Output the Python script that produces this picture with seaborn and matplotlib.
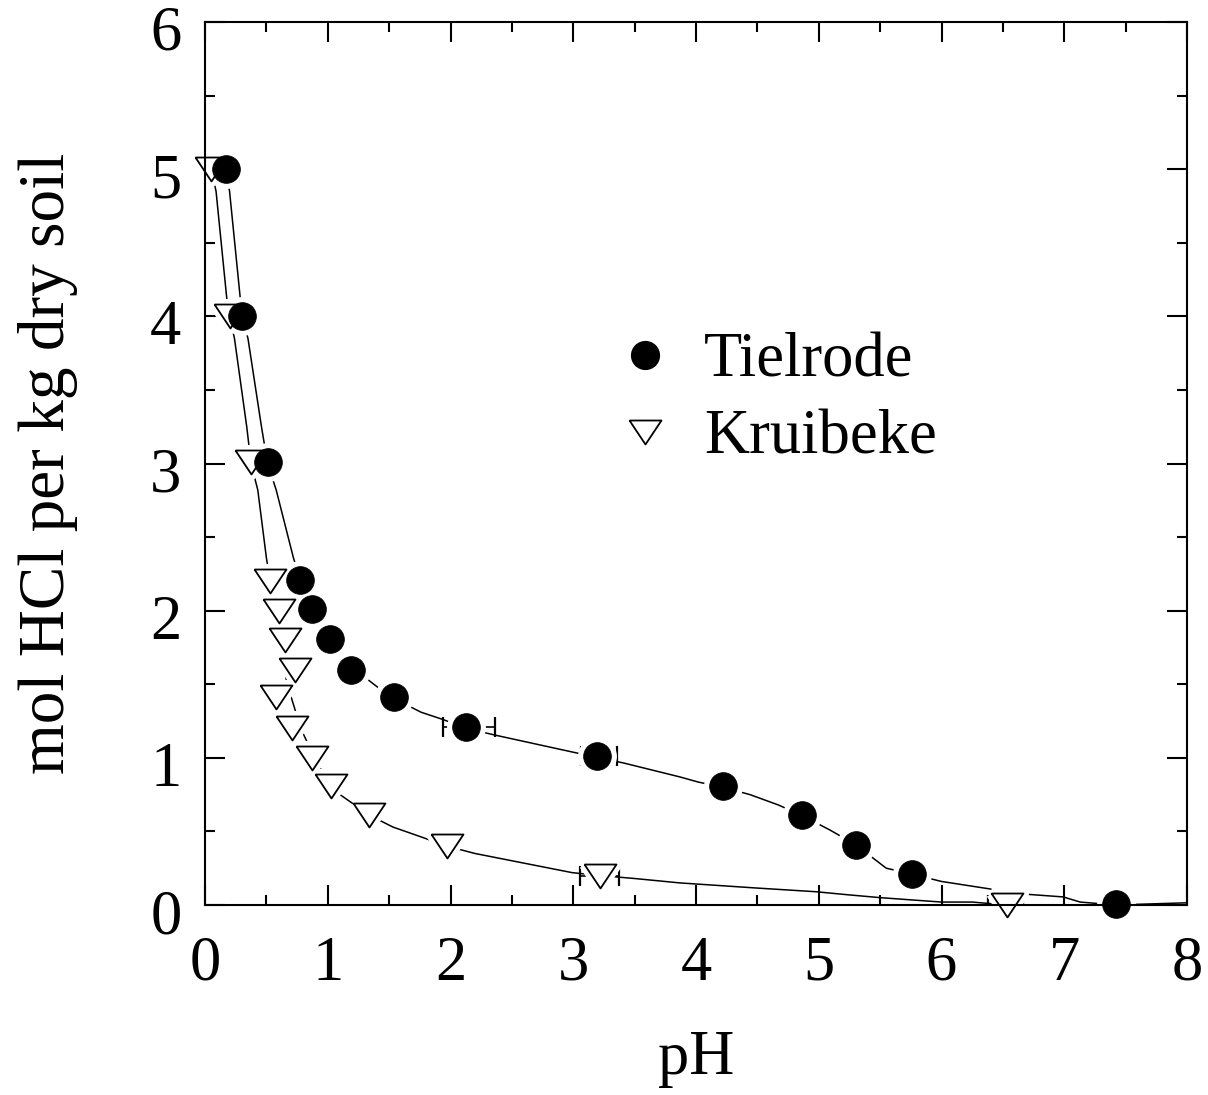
import matplotlib
matplotlib.use("Agg")
import matplotlib.pyplot as plt
import matplotlib.transforms as mtransforms
import seaborn as sns
from matplotlib.lines import Line2D
from matplotlib.ticker import MultipleLocator

# ---------------- data ----------------
tiel_ph = [0.17, 0.30, 0.51, 0.77, 0.87, 1.02, 1.19, 1.54, 2.13, 3.19, 4.22, 4.86, 5.30, 5.76, 7.42]
tiel_hcl = [5.00, 4.00, 3.01, 2.21, 2.01, 1.81, 1.60, 1.41, 1.21, 1.01, 0.81, 0.61, 0.41, 0.21, 0.01]

krui_ph = [0.05, 0.20, 0.375, 0.53, 0.60, 0.65, 0.73, 0.58, 0.71, 0.87, 1.03, 1.34, 1.97, 3.22, 6.53]
krui_hcl = [5.00, 4.00, 3.01, 2.20, 2.00, 1.80, 1.60, 1.41, 1.20, 1.00, 0.81, 0.61, 0.40, 0.20, 0.00]

# horizontal error bars (lower / upper extent in pH)
tiel_err_ph = [2.13, 3.19]
tiel_err_hcl = [1.21, 1.01]
tiel_err_lo = [0.19, 0.13]
tiel_err_hi = [0.23, 0.17]

krui_err_ph = [3.22, 6.53]
krui_err_hcl = [0.20, 0.00]
krui_err_lo = [0.165, 0.15]
krui_err_hi = [0.15, 0.13]

# fitted curves
tiel_fit_ph = [0.17, 0.20, 0.29, 0.30, 0.35, 0.46, 0.51, 0.58, 0.72, 0.80, 0.90, 1.04, 1.22,
               1.50, 1.76, 1.94, 2.13, 2.36, 2.99, 3.41, 3.87, 4.02, 4.22, 4.44, 4.67, 4.86,
               5.09, 5.30, 5.55, 5.76, 6.00, 6.31, 6.66, 6.99, 7.13, 7.42, 8.00]
tiel_fit_hcl = [5.00, 4.85, 4.10, 4.00, 3.85, 3.25, 3.00, 2.82, 2.36, 2.15, 1.95, 1.78, 1.60,
                1.42, 1.31, 1.26, 1.20, 1.155, 1.04, 0.965, 0.87, 0.835, 0.80, 0.75, 0.68, 0.61,
                0.51, 0.41, 0.25, 0.21, 0.16, 0.12, 0.075, 0.055, 0.02, 0.00, 0.015]

krui_fit_ph = [0.05, 0.09, 0.18, 0.20, 0.24, 0.34, 0.375, 0.43, 0.50, 0.55, 0.60, 0.67, 0.78,
               0.92, 1.10, 1.34, 1.53, 1.77, 1.97, 2.20, 2.99, 3.22, 3.50, 3.87, 4.50, 4.98,
               5.23, 5.50, 6.00, 6.25, 6.53, 8.00]
krui_fit_hcl = [5.00, 4.85, 4.10, 4.00, 3.85, 3.25, 3.00, 2.82, 2.36, 2.10, 1.80, 1.50, 1.20,
                0.95, 0.75, 0.61, 0.53, 0.46, 0.40, 0.35, 0.22, 0.20, 0.18, 0.15, 0.115, 0.09,
                0.07, 0.05, 0.02, 0.02, 0.00, 0.00]

series_labels = ["Tielrode", "Kruibeke"]
x_label = "pH"
y_label = "mol HCl per kg dry soil"

# ---------------- style ----------------
sns.set_theme(style="white")
plt.rcParams["font.family"] = ["Liberation Serif", "DejaVu Serif"]
plt.rcParams["text.color"] = "black"
plt.rcParams["axes.labelcolor"] = "black"
plt.rcParams["axes.edgecolor"] = "black"
plt.rcParams["axes.linewidth"] = 1.5

FS = 45
W, H = 1208, 1095
fig = plt.figure(figsize=(W / 100, H / 100), dpi=100)
ax = fig.add_axes([205 / W, 1 - 905 / H, 982 / W, 883 / H])

tri = [(-1, 0.75), (1, 0.75), (0, -0.75), (-1, 0.75)]
CIRC_S = 20 ** 2
TRI_S = 23 ** 2

# fitted curves
sns.lineplot(x=tiel_fit_ph, y=tiel_fit_hcl, sort=False, estimator=None,
             color="black", lw=1.1, ax=ax, zorder=1)
sns.lineplot(x=krui_fit_ph, y=krui_fit_hcl, sort=False, estimator=None,
             color="black", lw=1.1, ax=ax, zorder=1)

# error bars
ax.errorbar(tiel_err_ph, tiel_err_hcl, xerr=[tiel_err_lo, tiel_err_hi], fmt="none",
            ecolor="black", elinewidth=1.2, capsize=7.5, capthick=1.6, zorder=2)
ax.errorbar(krui_err_ph, krui_err_hcl, xerr=[krui_err_lo, krui_err_hi], fmt="none",
            ecolor="black", elinewidth=1.2, capsize=7.5, capthick=1.6, zorder=2)

# white halos around markers
sns.scatterplot(x=krui_ph, y=krui_hcl, marker=tri, s=TRI_S, color="white",
                edgecolor="white", linewidth=8, ax=ax, zorder=3, clip_on=False)
sns.scatterplot(x=tiel_ph, y=tiel_hcl, marker="o", s=CIRC_S, color="white",
                edgecolor="white", linewidth=8, ax=ax, zorder=3, clip_on=False)

# markers
sns.scatterplot(x=krui_ph, y=krui_hcl, marker=tri, s=TRI_S, color="white",
                edgecolor="black", linewidth=1.3, ax=ax, zorder=4, clip_on=False)
sns.scatterplot(x=tiel_ph, y=tiel_hcl, marker="o", s=CIRC_S, color="black",
                edgecolor="black", linewidth=0.5, ax=ax, zorder=5, clip_on=False)

# axes
ax.set_xlim(0, 8)
ax.set_ylim(0, 6)
ax.xaxis.set_major_locator(MultipleLocator(1))
ax.xaxis.set_minor_locator(MultipleLocator(0.5))
ax.yaxis.set_major_locator(MultipleLocator(1))
ax.yaxis.set_minor_locator(MultipleLocator(0.5))
ax.tick_params(which="both", direction="in", top=True, right=True, bottom=True, left=True,
               color="black", width=1.5, labelsize=FS, labelcolor="black")
ax.tick_params(which="major", length=14.4)
ax.tick_params(which="minor", length=7.2)
ax.tick_params(axis="x", which="major", pad=22)
ax.tick_params(axis="y", which="major", pad=17)
for sp in ax.spines.values():
    sp.set_color("black")
    sp.set_linewidth(1.5)
    sp.set_zorder(6)
ax.set_facecolor("white")

# y tick labels sit slightly below their ticks in the reference
shift = mtransforms.ScaledTranslation(0, -6 / 100, fig.dpi_scale_trans)
for lab in ax.get_yticklabels():
    lab.set_transform(lab.get_transform() + shift)

ax.set_xlabel(x_label, fontsize=FS, color="black", labelpad=26)
ax.set_ylabel(y_label, fontsize=47, color="black", labelpad=52)

# legend
handles = [
    Line2D([], [], linestyle="none", marker="o", markersize=20,
           markerfacecolor="black", markeredgecolor="black"),
    Line2D([], [], linestyle="none", marker=tri, markersize=23,
           markerfacecolor="white", markeredgecolor="black", markeredgewidth=1.3),
]
leg = ax.legend(handles, series_labels, loc="upper left", bbox_to_anchor=(0.416, 0.648),
                frameon=False, fontsize=FS, handlelength=1.0, handletextpad=0.45,
                labelspacing=0.3, borderpad=0, borderaxespad=0, numpoints=1)
for t in leg.get_texts():
    t.set_color("black")

fig.savefig("out.png", dpi=100, facecolor="white")
